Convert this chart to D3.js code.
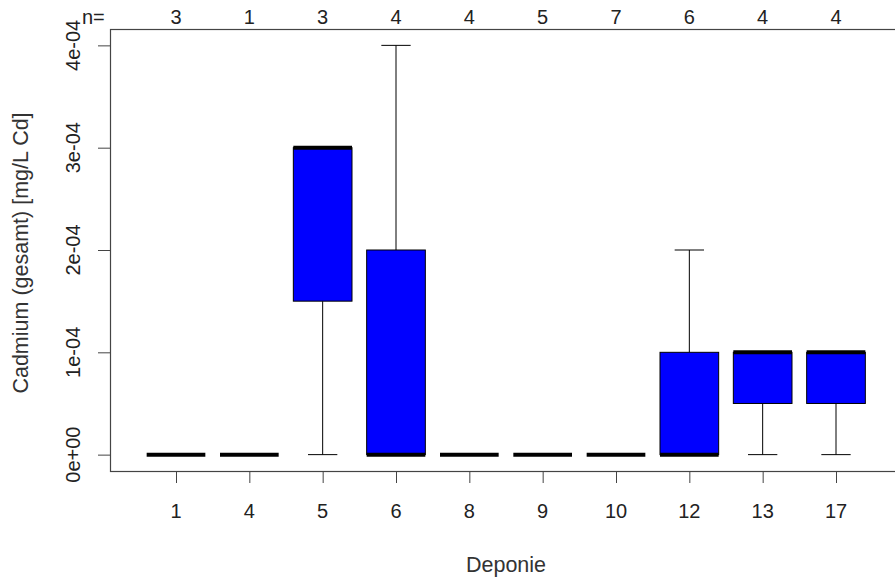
<!DOCTYPE html>
<html>
<head>
<meta charset="utf-8">
<script src="https://cdn.jsdelivr.net/npm/d3@7"></script>
<style>
  html, body { margin: 0; padding: 0; background: #fff; }
  svg { display: block; font-family: "Liberation Sans", Arial, sans-serif; }
</style>
</head>
<body>
<svg id="chart" width="895" height="581"></svg>
<script>
// Landfill sites (Deponie) and number of samples per site
const categories = ["1", "4", "5", "6", "8", "9", "10", "12", "13", "17"];
const counts = [3, 1, 3, 4, 4, 5, 7, 6, 4, 4];

// Five-number summaries per site, mg/L Cd
const whiskerLow  = [0, 0, 0,      0,      0, 0, 0, 0,      0,      0];
const quart1      = [0, 0, 1.5e-4, 0,      0, 0, 0, 0,      0.5e-4, 0.5e-4];
const medians     = [0, 0, 3e-4,   0,      0, 0, 0, 0,      1e-4,   1e-4];
const quart3      = [0, 0, 3e-4,   2e-4,   0, 0, 0, 1e-4,   1e-4,   1e-4];
const whiskerHigh = [0, 0, 3e-4,   4e-4,   0, 0, 0, 2e-4,   1e-4,   1e-4];

const yTicks = [0, 1e-4, 2e-4, 3e-4, 4e-4];
const yTickLabels = ["0e+00", "1e-04", "2e-04", "3e-04", "4e-04"];

const svg = d3.select("#chart");
const fontSize = 20;
const titleSize = 21.5;
const plotLeft = 110, plotTop = 29, plotBottom = 471, plotRight = 902;

const x = d3.scaleLinear().domain([0.1, 10.9]).range([plotLeft, plotRight]);
const y = d3.scaleLinear().domain([-0.16e-4, 4.16e-4]).range([plotBottom, plotTop]);
const unit = x(2) - x(1);
const boxW = 0.8 * unit;
const stapleW = 0.5 * boxW;

const boxes = categories.map((c, i) => ({
  pos: i + 1, lo: whiskerLow[i], q1: quart1[i], med: medians[i],
  q3: quart3[i], hi: whiskerHigh[i]
}));

const g = svg.append("g");

// whiskers and staples
boxes.forEach(b => {
  const cx = x(b.pos);
  if (b.hi > b.q3) {
    g.append("line").attr("x1", cx).attr("x2", cx).attr("y1", y(b.q3)).attr("y2", y(b.hi))
      .attr("stroke", "#000").attr("stroke-width", 1);
    g.append("line").attr("x1", cx - stapleW / 2).attr("x2", cx + stapleW / 2)
      .attr("y1", y(b.hi)).attr("y2", y(b.hi)).attr("stroke", "#000").attr("stroke-width", 1);
  }
  if (b.lo < b.q1) {
    g.append("line").attr("x1", cx).attr("x2", cx).attr("y1", y(b.q1)).attr("y2", y(b.lo))
      .attr("stroke", "#000").attr("stroke-width", 1);
    g.append("line").attr("x1", cx - stapleW / 2).attr("x2", cx + stapleW / 2)
      .attr("y1", y(b.lo)).attr("y2", y(b.lo)).attr("stroke", "#000").attr("stroke-width", 1);
  }
});

// boxes
g.selectAll("rect.box").data(boxes.filter(b => b.q3 > b.q1)).enter().append("rect")
  .attr("class", "box")
  .attr("x", b => x(b.pos) - boxW / 2)
  .attr("y", b => y(b.q3))
  .attr("width", boxW)
  .attr("height", b => y(b.q1) - y(b.q3))
  .attr("fill", "#0000ff")
  .attr("stroke", "#000")
  .attr("stroke-width", 1);

// medians
g.selectAll("line.med").data(boxes).enter().append("line")
  .attr("class", "med")
  .attr("x1", b => x(b.pos) - boxW / 2)
  .attr("x2", b => x(b.pos) + boxW / 2)
  .attr("y1", b => y(b.med))
  .attr("y2", b => y(b.med))
  .attr("stroke", "#000")
  .attr("stroke-width", 4)
  .attr("stroke-linecap", "butt");

// plot frame
svg.append("rect")
  .attr("x", plotLeft + 0.5).attr("y", plotTop + 0.5)
  .attr("width", plotRight - plotLeft).attr("height", plotBottom - plotTop)
  .attr("fill", "none").attr("stroke", "#444").attr("stroke-width", 1.2);

// y axis
const yAxis = svg.append("g").attr("transform", `translate(${plotLeft},0)`)
  .call(d3.axisLeft(y).tickValues(yTicks).tickSize(12).tickFormat(""));
yAxis.select(".domain").remove();
yAxis.selectAll("line").attr("stroke", "#444");
svg.append("g").selectAll("text").data(yTicks).enter().append("text")
  .attr("transform", d => `translate(80,${y(d)}) rotate(-90)`)
  .attr("text-anchor", "middle")
  .attr("font-size", fontSize)
  .attr("fill", "#222")
  .text((d, i) => yTickLabels[i]);

// x axis
const xAxis = svg.append("g").attr("transform", `translate(0,${plotBottom})`)
  .call(d3.axisBottom(x).tickValues(boxes.map(b => b.pos)).tickSize(12).tickFormat(""));
xAxis.select(".domain").remove();
xAxis.selectAll("line").attr("stroke", "#444");
svg.append("g").selectAll("text").data(boxes).enter().append("text")
  .attr("x", b => x(b.pos)).attr("y", 518)
  .attr("text-anchor", "middle")
  .attr("font-size", fontSize)
  .attr("fill", "#222")
  .text((b, i) => categories[i]);

// sample counts above the plot
svg.append("text").attr("x", 82).attr("y", 24).attr("font-size", fontSize)
  .attr("fill", "#222").text("n=");
svg.append("g").selectAll("text").data(boxes).enter().append("text")
  .attr("x", b => x(b.pos)).attr("y", 24)
  .attr("text-anchor", "middle")
  .attr("font-size", fontSize)
  .attr("fill", "#222")
  .text((b, i) => counts[i]);

// axis titles
svg.append("text").attr("x", x(5.5)).attr("y", 572)
  .attr("text-anchor", "middle").attr("font-size", titleSize).attr("fill", "#333")
  .text("Deponie");
svg.append("text")
  .attr("transform", `translate(28,253) rotate(-90)`)
  .attr("text-anchor", "middle").attr("font-size", titleSize).attr("fill", "#333")
  .text("Cadmium (gesamt) [mg/L Cd]");
</script>
</body>
</html>
